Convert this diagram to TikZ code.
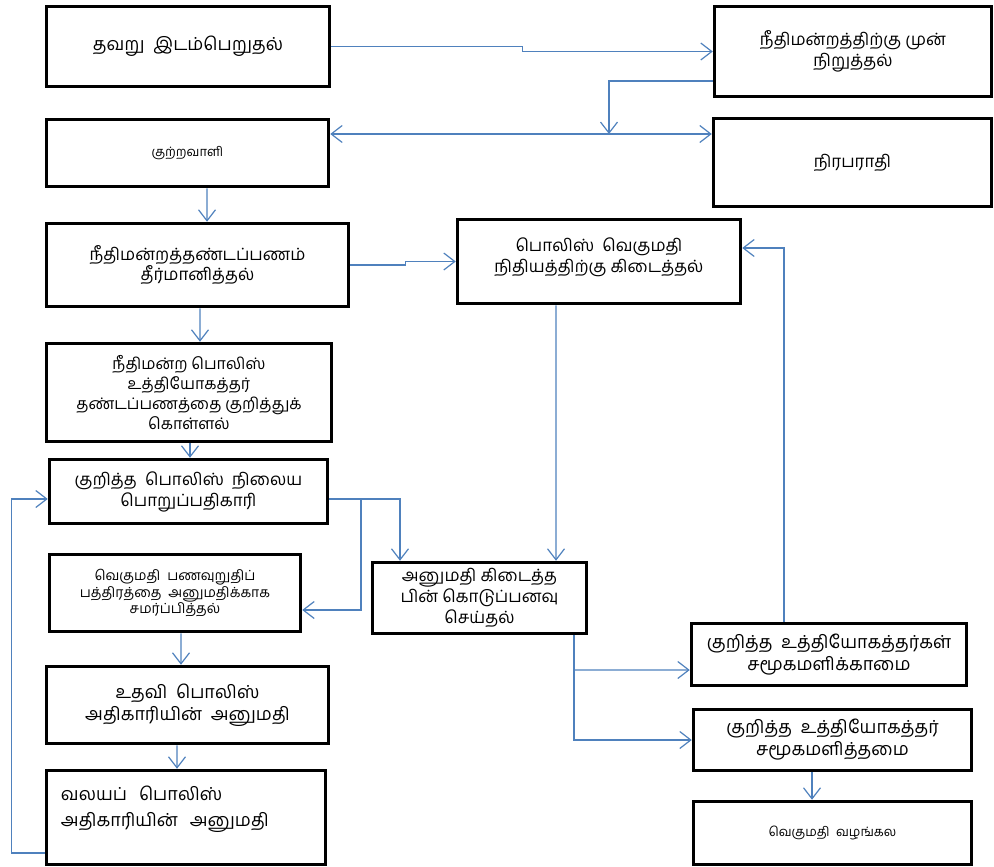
\documentclass[tikz,border=0pt]{standalone}
\usepackage{fontspec}
\newfontfamily\tamilfont[Script=Tamil]{Hind Madurai}
\usetikzlibrary{arrows.meta}
\definecolor{linkblue}{RGB}{79,129,189}

\begin{document}
\begin{tikzpicture}[x=1bp, y=-1bp, >={Straight Barb[length=11bp,width=17bp]},
    box/.style={rectangle, draw, line width=3.5bp, align=center, inner sep=2bp,
        font=\tamilfont\fontsize{17}{21}\selectfont},
    small/.style={font=\tamilfont\fontsize{13}{17}\selectfont},
    wide/.style={font=\tamilfont\fontsize{18}{22}\selectfont},
    flow/.style={->, draw=linkblue, line width=1.2bp}]
    \useasboundingbox (0,0) rectangle (994,867);

    \node [box, minimum width=283bp, minimum height=80bp, font=\tamilfont\fontsize{18}{22}\selectfont] (offence) at (188,46.5) {தவறு~ இடம்பெறுதல்};
    \node [box, minimum width=277bp, minimum height=90bp] (court) at (853,51.5) {நீதிமன்றத்திற்கு முன்\\நிறுத்தல்};
    \node [box, small, minimum width=282bp, minimum height=67bp] (convict) at (187.5,153) {குற்றவாளி};
    \node [box, minimum width=278bp, minimum height=88bp] (innocent) at (852.5,162.5) {நிரபராதி};
    \node [box, minimum width=302bp, minimum height=83bp] (fineorder) at (197.5,265) {நீதிமன்றத்தண்டப்பணம்\\தீர்மானித்தல்};
    \node [box, minimum width=283bp, minimum height=84bp, text depth=12bp] (rewardfund) at (599,261.5) {பொலிஸ்~ வெகுமதி\\நிதியத்திற்கு கிடைத்தல்};
    \node [box, minimum width=285bp, minimum height=98bp, font=\tamilfont\fontsize{16}{20}\selectfont] (courtofficer) at (189,392.5) {நீதிமன்ற பொலிஸ்\\உத்தியோகத்தர்\\தண்டப்பணத்தை குறித்துக்\\கொள்ளல்};
    \node [box, minimum width=278bp, minimum height=64bp] (oic) at (188.5,491.5) {குறித்த~ பொலிஸ்~ நிலைய\\பொறுப்பதிகாரி};
    \node [box, minimum width=251bp, minimum height=77bp, font=\tamilfont\fontsize{14}{17}\selectfont] (submitvoucher) at (175,593) {வெகுமதி~ பணவுறுதிப்\\பத்திரத்தை~ அனுமதிக்காக\\சமர்ப்பித்தல்};
    \node [box, minimum width=214bp, minimum height=71bp] (payment) at (479.5,598) {அனுமதி கிடைத்த\\பின் கொடுப்பனவு\\செய்தல்};
    \node [box, wide, minimum width=275bp, minimum height=62bp] (absent) at (829,654.5) {குறித்த~ உத்தியோகத்தர்கள்\\சமூகமளிக்காமை};
    \node [box, wide, minimum width=278bp, minimum height=61bp] (present) at (832.5,740) {குறித்த~ உத்தியோகத்தர்\\சமூகமளித்தமை};
    \node [box, wide, minimum width=282bp, minimum height=77bp] (asp) at (187.5,705) {உதவி~ பொலிஸ்\\அதிகாரியின்~ அனுமதி};
    \node [box, wide, align=left, text width=250bp, minimum width=279bp, minimum height=94bp] (zonal) at (186,817.5) {வலயப்~ பொலிஸ்\\[4bp]அதிகாரியின்~ அனுமதி\\ \mbox{}};
    \node [box, minimum width=278bp, minimum height=63bp, font=\tamilfont\fontsize{13}{17}\selectfont] (reward) at (832.5,833) {வெகுமதி~ வழங்கல};

    \coordinate (split) at (609,134);
    \coordinate (fork) at (361,499);
    \coordinate (branch) at (574,670);

    \draw[flow] (offence.east) -- ++(191,0) |- (court.west);
    \draw[flow] ([yshift=-29.5bp]court.west) -| (split);
    \draw[flow, <->] (convict.east |- split) -- (innocent.west |- split);
    \draw[flow] ([xshift=19.5bp]convict.south) -- ([xshift=9.5bp]fineorder.north);
    \draw[flow] (fineorder.east) -- ++(55,0) |- (rewardfund.west);
    \draw[flow] ([xshift=2.5bp]fineorder.south) -- ([xshift=11bp]courtofficer.north);
    \draw[flow] ([xshift=1bp]courtofficer.south) -- ([xshift=1.5bp]oic.north);
    \draw[flow] ([yshift=-7.5bp]oic.east) -| ([xshift=-79.5bp]payment.north);
    \draw[flow] (fork) |- ([yshift=-17bp]submitvoucher.east);
    \draw[flow] ([xshift=-43bp]rewardfund.south) -- ([xshift=76.5bp]payment.north);
    \draw[flow] ([xshift=94.5bp]payment.south) |- (present.west);
    \draw[flow] (branch) -- ([yshift=-15.5bp]absent.west);
    \draw[flow] ([xshift=-45bp]absent.north) |- ([yshift=13.5bp]rewardfund.east);
    \draw[flow] ([xshift=6bp]submitvoucher.south) -- ([xshift=-6.5bp]asp.north);
    \draw[flow] ([xshift=-10.5bp]asp.south) -- ([xshift=-9bp]zonal.north);
    \draw[flow] ([yshift=-35.5bp]zonal.west) -- ++(-33,0) |- ([yshift=-7.5bp]oic.west);
    \draw[flow] ([xshift=-20.5bp]present.south) -- ([xshift=-20.5bp]reward.north);
\end{tikzpicture}
\end{document}
